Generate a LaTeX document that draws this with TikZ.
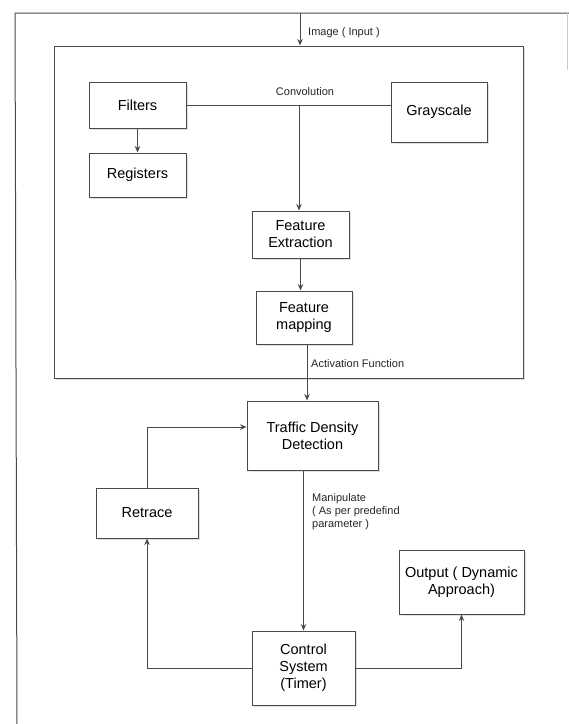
\documentclass[tikz,border=0pt]{standalone}
\usepackage{fontspec}
\setmainfont{Liberation Sans}
\usetikzlibrary{arrows.meta,shadows}
\definecolor{edgegray}{HTML}{4A4A4A}
\definecolor{shadegray}{HTML}{A8A8C0}
\tikzset{
	block/.style={draw=edgegray, line width=1pt, fill=white, align=center, inner sep=2pt,
		font=\fontsize{14.5}{17}\selectfont,
		drop shadow={shadow xshift=1.5pt, shadow yshift=-1.5pt, opacity=0.35, fill=shadegray}},
	link/.style={draw=edgegray, line width=1pt, -{Stealth[length=6.5pt,width=5.5pt]}},
	wire/.style={draw=edgegray, line width=1pt},
	note/.style={font=\fontsize{11}{13}\selectfont, text=black!85, inner sep=0pt}
}

\begin{document}
\begin{tikzpicture}[x=1pt, y=-1pt]
		%%%%% START %%%%%
		\useasboundingbox (0, 0) rectangle (569, 724);
		
		% outer frame, cut off at the page edge
		\coordinate (frametl) at (15, 13);
		\coordinate (framebl) at (17, 724);
		\coordinate (frametr) at (569, 13);
		\coordinate (imgin) at (300, 13);
		\draw[wire] (framebl) -- (frametl) -- (frametr);
		\draw[draw=gray!40, line width=0.6pt] (567, 13) -- (567, 70);
		
		% network box
		\node[block, minimum width=469pt, minimum height=332pt] (cnnbox) at (288.5, 212) {};
		
		\node[block, minimum width=97pt, minimum height=46pt] (filters) at (137.5, 105) {Filters};
		\node[block, minimum width=97pt, minimum height=44pt] (registers) at (137.5, 175) {Registers};
		\node[block, minimum width=96pt, minimum height=60pt] (gray) at (439, 112) {Grayscale};
		\node[block, minimum width=97pt, minimum height=47pt] (fext) at (300.5, 234.5) {Feature\\Extraction};
		\node[block, minimum width=96pt, minimum height=53pt] (fmap) at (304, 317.5) {Feature\\mapping};
		
		% control loop
		\node[block, minimum width=131pt, minimum height=69pt] (tdd) at (312.5, 435.5) {Traffic Density\\Detection};
		\node[block, minimum width=102pt, minimum height=50pt] (retrace) at (147, 513) {Retrace};
		\node[block, minimum width=125pt, minimum height=64pt] (output) at (461.5, 582) {Output ( Dynamic\\Approach)};
		\node[block, minimum width=103pt, minimum height=74pt] (control) at (303.5, 668) {Control\\System\\(Timer)};
		
		% connectors
		\draw[link] (imgin) -- (imgin |- cnnbox.north);
		\node[note, anchor=west] (imglabel) at (308, 33) {Image ( Input )};
		
		\draw[wire] (filters.east) -- (filters.east -| gray.west);
		\node[note] (convlabel) at (305, 92) {Convolution};
		\draw[link] (filters.east -| 299, 0) -- (299, 0 |- fext.north);
		\draw[link] (filters.south) -- (registers.north);
		\draw[link] (fext.south) -- (fext.south |- fmap.north);
		
		\draw[link] ([xshift=3pt]fmap.south) -- ([xshift=3pt]fmap.south |- tdd.north);
		\node[note, anchor=west] (actlabel) at (311, 364) {Activation Function};
		
		\draw[link] (control.north |- tdd.south) -- (control.north);
		\node[note, anchor=north west, align=left] (manlabel) at (312, 493) {Manipulate\\( As per predefind\\parameter )};
		
		\draw[link] (control.west) -| (retrace.south);
		\draw[link] (control.east) -| (output.south);
		\draw[link] (retrace.north) |- ([yshift=8.5pt]tdd.west);
		%%%%% END %%%%%
\end{tikzpicture}
\end{document}
